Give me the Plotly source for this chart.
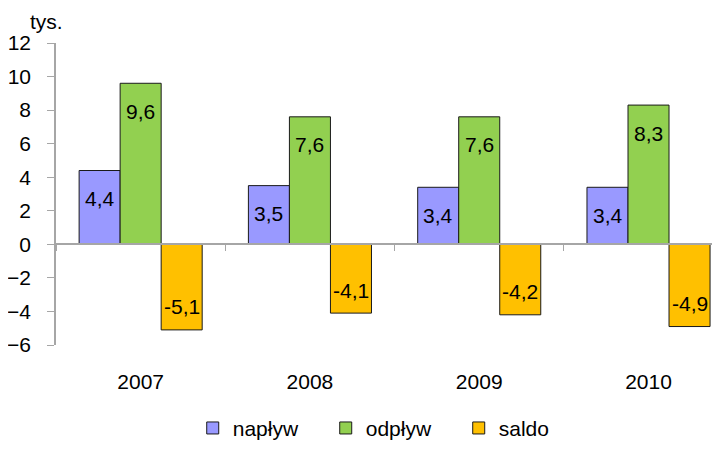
import plotly.graph_objects as go

years = ["2007", "2008", "2009", "2010"]
series_names = ["napływ", "odpływ", "saldo"]
naplyw = [4.4, 3.5, 3.4, 3.4]
odplyw = [9.6, 7.6, 7.6, 8.3]
saldo = [-5.1, -4.1, -4.2, -4.9]
colors = ["#9999FF", "#92D050", "#FFC000"]

FONT = "Liberation Sans, Arial, sans-serif"
BAR_PX = 41  # approx pixel width of one bar

fig = go.Figure()
all_vals = [naplyw, odplyw, saldo]
for name, vals, col in zip(series_names, all_vals, colors):
    fig.add_trace(go.Bar(
        x=years, y=vals, name=name,
        marker=dict(color=col, line=dict(color="#1a1a1a", width=1)),
        hoverinfo="skip",
    ))

# helper trace for the axis drawn at zero
fig.add_trace(go.Scatter(x=years, y=[0] * len(years), xaxis="x2", mode="none",
                         showlegend=False, hoverinfo="skip"))

# value labels inside bar ends (x given as category index)
for i, vals in enumerate(all_vals):
    for j, v in enumerate(vals):
        fig.add_annotation(
            x=j, y=v, text=f"{v:.1f}".replace(".", ","), showarrow=False,
            xshift=(i - 1) * BAR_PX, yshift=-28 if v > 0 else 23,
            font=dict(family=FONT, size=21, color="black"),
        )

fig.add_annotation(xref="paper", yref="paper", x=-0.015, y=1.072, text="tys.",
                   showarrow=False, xanchor="center", yanchor="middle",
                   font=dict(family=FONT, size=21, color="black"))

# page body has an 8px margin, so the figure is sized to fit inside the window
fig.update_layout(
    width=705, height=436,
    margin=dict(l=48, r=1, t=35, b=99),
    paper_bgcolor="white", plot_bgcolor="white",
    font=dict(family=FONT, size=21, color="black"),
    barmode="group", bargap=0.273, bargroupgap=0,
    showlegend=True,
    legend=dict(orientation="h", xref="container", yref="container",
                x=0.545, xanchor="center", y=0.036, yanchor="middle",
                entrywidth=88, entrywidthmode="pixels", itemwidth=30,
                font=dict(size=21)),
    xaxis=dict(type="category", range=[-0.5, 3.375], showline=False, ticks="",
               showgrid=False, zeroline=False, ticklabelstandoff=22, automargin=False),
    xaxis2=dict(type="category", overlaying="x", anchor="free", position=101 / 302,
                range=[-0.5, 3.375], showline=True, linecolor="#a6a6a6", linewidth=1.5,
                ticks="outside", tickson="boundaries", ticklen=6, tickcolor="#a6a6a6",
                showticklabels=False, showgrid=False, zeroline=False, automargin=False),
    yaxis=dict(range=[-6, 12], dtick=2, showgrid=False, zeroline=False,
               showline=True, linecolor="#a6a6a6", linewidth=1.5,
               ticks="outside", ticklen=7, tickcolor="#a6a6a6",
               ticklabelstandoff=12, automargin=False),
)

fig.write_html("out.html")
